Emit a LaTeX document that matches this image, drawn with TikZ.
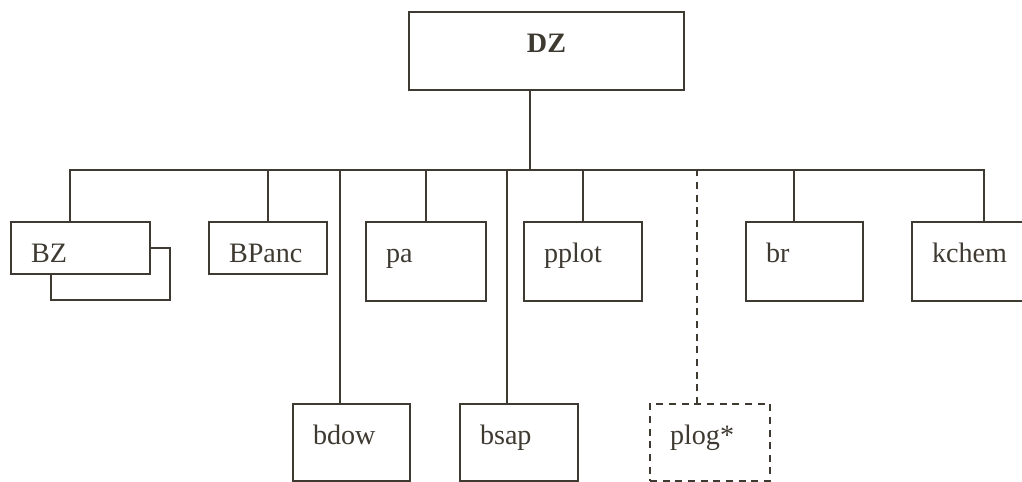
\documentclass[tikz,border=0pt]{standalone}
\usepackage{fontspec}
\setmainfont{Liberation Serif}
\definecolor{ink}{RGB}{62,57,49}

\begin{document}
\begin{tikzpicture}[
    module/.style={
        draw=ink,
        line width=1.3pt,
        anchor=north west,
        outer sep=0pt,
        inner xsep=0.5cm,
        inner ysep=0pt,
        text width=1.95cm,
        text height=1cm,
        align=left,
        text=ink,
        font=\fontsize{20pt}{24pt}\selectfont,
    },
    short/.style={text depth=0.3cm},
    tall/.style={text depth=0.975cm},
    low/.style={text depth=0.925cm},
    optional/.style={dash pattern=on 5pt off 4pt},
    edge/.style={
        line width=1.3pt,
        draw=ink
    }
]

    \useasboundingbox (0,0) rectangle (25.55,-12.025);
    \clip (0,0) rectangle (25.55,-12.025);

    \node[module, text depth=0.95cm, text width=5.875cm, align=center,
          font=\fontsize{20pt}{24pt}\selectfont\bfseries] (DZ) at (10.225,-0.3) {DZ};

    \coordinate (bus) at (0,-4.25);

    \node[module, short, text width=2.475cm] (BZ) at (0.275,-5.55) {BZ};
    \node[module, short] (BPanc) at (5.225,-5.55) {BPanc};
    \node[module, tall, text width=2cm] (pa) at (9.15,-5.55) {pa};
    \node[module, tall] (pplot) at (13.1,-5.55) {pplot};
    \node[module, tall, text width=1.925cm] (br) at (18.65,-5.55) {br};
    \node[module, tall] (kchem) at (22.8,-5.55) {kchem};

    \node[module, low, text width=1.925cm] (bdow) at (7.325,-10.1) {bdow};
    \node[module, low] (bsap) at (11.5,-10.1) {bsap};
    \node[module, low, optional, text width=2cm] (plog) at (16.25,-10.1) {plog*};

    % second copy behind BZ
    \draw[edge] (BZ.east) -- ++(0.5,0) |- ([xshift=1cm,yshift=-0.65cm]BZ.south west)
        -- ([xshift=1cm]BZ.south west);

    \draw[edge] ([xshift=-0.41cm]DZ.south) -- ([xshift=-0.41cm]DZ.south |- bus);
    \draw[edge] ([xshift=-0.26cm]BZ.north) |- ([xshift=0.325cm]kchem.north |- bus)
        -- ([xshift=0.325cm]kchem.north);

    \foreach \n/\dx in {BPanc/0, pa/0, pplot/0, br/-0.26, bdow/-0.29, bsap/-0.29}
        \draw[edge] ([xshift=\dx cm]\n.north) -- ([xshift=\dx cm]\n.north |- bus);

    \draw[edge, optional] ([xshift=-0.325cm]plog.north) -- ([xshift=-0.325cm]plog.north |- bus);
\end{tikzpicture}
\end{document}
